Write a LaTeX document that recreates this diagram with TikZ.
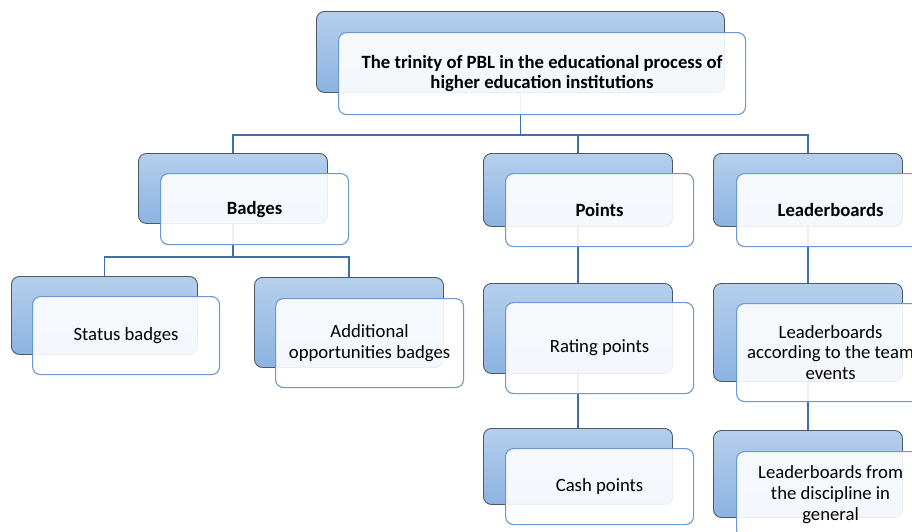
\documentclass[tikz,border=0pt]{standalone}
\usepackage{fontspec}
\setmainfont{Carlito}
\definecolor{backtop}{HTML}{B6CFEC}
\definecolor{backbot}{HTML}{8CB3E2}
\definecolor{backline}{HTML}{4F5963}
\definecolor{frontline}{HTML}{6A98CF}
\definecolor{connc}{HTML}{3F6FA6}
\tikzset{
  backbox/.style={draw=backline, line width=0.9pt, rounded corners=8pt,
    top color=backtop, bottom color=backbot, anchor=north west, inner sep=0pt},
  frontbox/.style={draw=frontline, line width=1.1pt, rounded corners=8pt,
    fill=white, fill opacity=0.9, text opacity=1, anchor=north west,
    inner sep=0pt, align=center, font=\fontsize{18.7}{20.7}\selectfont},
  connline/.style={draw=connc, line width=1.8pt}
}
\begin{document}
\begin{tikzpicture}[x=1pt,y=-1pt]
\useasboundingbox (0,0) rectangle (912,531);
\clip (0,0) rectangle (912,531);
% back boxes
\node[backbox, minimum width=408pt, minimum height=81pt] (bT) at (316,11) {};
\node[backbox, minimum width=189pt, minimum height=70pt] (bB) at (138,153) {};
\node[backbox, minimum width=189pt, minimum height=73pt] (bP) at (483,153) {};
\node[backbox, minimum width=189pt, minimum height=73pt] (bL) at (713,153) {};
\node[backbox, minimum width=186pt, minimum height=78pt] (bS) at (11,276) {};
\node[backbox, minimum width=189pt, minimum height=90pt] (bA) at (254,277) {};
\node[backbox, minimum width=189pt, minimum height=90pt] (bR) at (483,283) {};
\node[backbox, minimum width=189pt, minimum height=76pt] (bC) at (483,428) {};
\node[backbox, minimum width=189pt, minimum height=98pt] (bLT) at (713,283) {};
\node[backbox, minimum width=189pt, minimum height=87pt] (bLD) at (713,430) {};
% connectors
\coordinate (j1) at (520,135);
\coordinate (j2) at (233,257);
\draw[connline] (bT.south) -- (bT.south |- j1) -| (bB.north);
\draw[connline] (bT.south |- j1) -| (bP.north);
\draw[connline] (bT.south |- j1) -| (bL.north);
\draw[connline] (bB.south) -- (bB.south |- j2) -| (bS.north);
\draw[connline] (bB.south |- j2) -| (bA.north);
\draw[connline] (bP.south) -- (bR.north);
\draw[connline] (bR.south) -- (bC.north);
\draw[connline] (bL.south) -- (bLT.north);
\draw[connline] (bLT.south) -- (bLD.north);
% front boxes
\node[frontbox, minimum width=407pt, minimum height=82pt] (fT) at (338,32)
  {\bfseries The trinity of PBL in the educational process of\\\bfseries higher education institutions};
\node[frontbox, minimum width=188pt, minimum height=71pt] (fB) at (160,173) {\bfseries Badges};
\node[frontbox, minimum width=188pt, minimum height=73pt] (fP) at (505,173) {\bfseries Points};
\node[frontbox, minimum width=188pt, minimum height=73pt] (fL) at (736,173) {\bfseries Leaderboards};
\node[frontbox, minimum width=187pt, minimum height=78pt] (fS) at (32,296) {Status badges};
\node[frontbox, minimum width=188pt, minimum height=89pt] (fA) at (275,298) {Additional\\opportunities badges};
\node[frontbox, minimum width=188pt, minimum height=91pt] (fR) at (505,302) {Rating points};
\node[frontbox, minimum width=188pt, minimum height=76pt] (fC) at (505,448) {Cash points};
\node[frontbox, minimum width=188pt, minimum height=98pt] (fLT) at (736,303) {Leaderboards\\according to the team\\events};
\node[frontbox, minimum width=188pt, minimum height=86pt] (fLD) at (736,451) {Leaderboards from\\the discipline in\\general};
\end{tikzpicture}
\end{document}
